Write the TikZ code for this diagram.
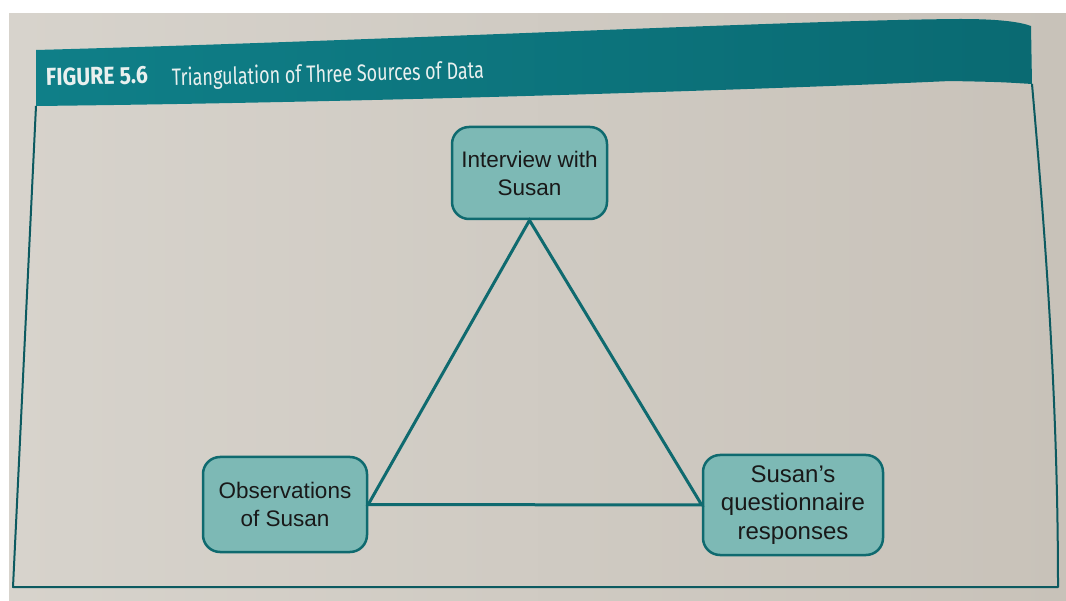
\documentclass[tikz,border=0pt]{standalone}
\usepackage{fontspec}
\setmainfont{Liberation Sans}
\newfontfamily\headfont{Fira Sans}

\definecolor{paper}{HTML}{D7D3CC}
\definecolor{paperdark}{HTML}{C8C2B9}
\definecolor{band}{HTML}{0F7F88}
\definecolor{banddark}{HTML}{0A6A72}
\definecolor{boxfill}{HTML}{7DB9B5}
\definecolor{boxline}{HTML}{0F6A6F}
\definecolor{frameline}{HTML}{0C5A60}
\definecolor{headtext}{HTML}{E9F0EF}

\begin{document}
\begin{tikzpicture}[x=1pt,y=-1pt,
  source/.style={draw=boxline, line width=2.5pt, fill=boxfill,
    rounded corners=17pt, align=center, inner sep=0pt,
    font=\fontsize{22.5}{28}\selectfont, text=black!90},
  link/.style={draw=boxline, line width=3pt},
  headline/.style={anchor=base west, inner sep=0pt, text=headtext, rotate=1.4}]
\useasboundingbox (0,0) rectangle (1066,601);

% page
\fill[white] (0,0) rectangle (1066,601);
\shade[left color=paper, right color=paperdark] (9,14) rectangle (1066,601);

% title band
\shade[left color=band, right color=banddark]
  (36,50) .. controls (400,40) and (800,20) .. (960,19)
  .. controls (1000,19) and (1020,22) .. (1031,26)
  -- (1032,84)
  .. controls (1000,82) .. (950,81)
  .. controls (800,88) and (400,102) .. (36,106) -- cycle;

% figure frame
\draw[frameline, line width=2pt, line join=round]
  (36,106) -- (13,587) -- (1058,587)
  .. controls (1058,380) and (1042,200) .. (1032,84);

% title text
\node[headline] (figno) at (46,86)
  {\resizebox{102pt}{17.5pt}{\headfont\bfseries FIGURE 5.6}};
\node[headline] (figtitle) at (172,86)
  {\resizebox{312pt}{18.5pt}{\headfont Triangulation of Three Sources of Data}};

% data sources
\node[source, minimum width=155pt, minimum height=92pt] (interview)
  at (529.5,173) {Interview with\\Susan};
\node[source, minimum width=164pt, minimum height=95pt] (observe)
  at (285,504.5) {Observations\\of Susan};
\node[source, minimum width=180pt, minimum height=100pt,
  font=\fontsize{24}{28.5}\selectfont] (survey)
  at (793,505) {Susan’s\\questionnaire\\responses};

% triangulation
\draw[link] (interview.south) -- (observe.east) -- (survey.west) -- cycle;
\end{tikzpicture}
\end{document}
